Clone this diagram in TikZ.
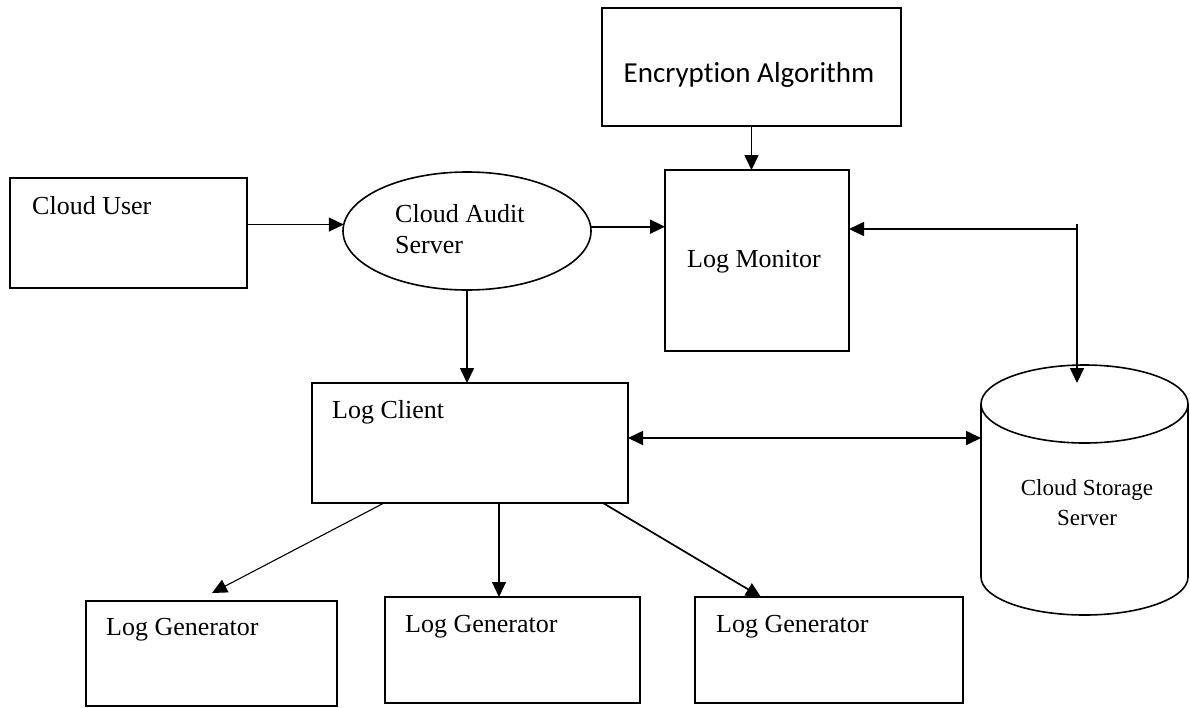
\documentclass[tikz,border=0pt]{standalone}
\usepackage{fontspec}
\setmainfont{Liberation Serif}
\newfontfamily\encfont[Ligatures=NoCommon]{Carlito}
\usetikzlibrary{arrows.meta,shapes.geometric,calc}
\begin{document}
\begin{tikzpicture}[x=1pt,y=-1pt,
  box/.style={draw, line width=1.6pt, inner sep=0pt, outer sep=0pt, anchor=north west},
  lbl/.style={inner sep=0pt, anchor=base west, font=\fontsize{26}{31}\selectfont},
  arr/.style={line width=1.7pt, -{Triangle[length=15pt,width=14pt]}},
  thinarr/.style={line width=1.1pt, -{Triangle[length=15pt,width=14pt]}},
  dblarr/.style={line width=1.7pt, {Triangle[length=15pt,width=14pt]}-{Triangle[length=15pt,width=14pt]}}]
\path[use as bounding box] (0,0) rectangle (1190,707);

% boxes
\node[box, minimum width=299pt, minimum height=118pt] (enc) at (602,8) {};
\node[inner sep=0pt, anchor=base, font=\encfont\fontsize{29}{34}\selectfont] (enctext) at (749,82) {Encryption Algorithm};

\node[box, minimum width=184pt, minimum height=181pt] (lm) at (665,170) {};
\node[lbl] (lmtext) at (687,267) {Log Monitor};

\node[box, minimum width=237pt, minimum height=110pt] (cu) at (10,178) {};
\node[lbl] (cutext) at (32,214) {Cloud User};

\node[draw, ellipse, line width=1.6pt, inner sep=0pt, outer sep=0pt, minimum width=248pt, minimum height=118pt] (cas) at (467,231) {};
\node[lbl] (castextA) at (395,222) {Cloud Audit};
\node[lbl] (castextB) at (395,253) {Server};

\node[box, minimum width=316pt, minimum height=120pt] (lc) at (312,383) {};
\node[lbl] (lctext) at (332,418) {Log Client};

\node[box, minimum width=251pt, minimum height=105pt] (g1) at (86,601) {};
\node[lbl] (g1text) at (106,635) {Log Generator};
\node[box, minimum width=255pt, minimum height=106pt] (g2) at (385,597) {};
\node[lbl] (g2text) at (405,632) {Log Generator};
\node[box, minimum width=268pt, minimum height=106pt] (g3) at (695,597) {};
\node[lbl] (g3text) at (716,632) {Log Generator};

% cylinder (Cloud Storage Server)
\draw[line width=1.6pt] (1084.5,404) ellipse [x radius=103.5, y radius=39];
\draw[line width=1.6pt] (981,404) -- (981,577) arc[start angle=180, end angle=0, x radius=103.5, y radius=38] -- (1188,404);
\node[inner sep=0pt, anchor=base, font=\fontsize{23}{28}\selectfont] (csstextA) at (1087,495) {Cloud Storage};
\node[inner sep=0pt, anchor=base, font=\fontsize{23}{28}\selectfont] (csstextB) at (1087,525) {Server};
\coordinate (csstop) at (1077,383);
\coordinate (cssleft) at (981,438);
\coordinate (corner) at (1077,229);
\coordinate (cornertop) at (1077,224);

% connectors
\draw[arr] (enc.south) -- (enc.south |- lm.north);
\draw[arr] (cu.east |- cas.177) -- (cas.177);
\draw[arr] (cas.2) -- (cas.2 -| lm.west);
\draw[arr] (cas.south) -- (cas.south |- lc.north);
\draw[arr] (corner) -- (corner -| lm.east);
\draw[arr] (cornertop) -- (csstop);
\draw[dblarr] (cssleft -| lc.east) -- (cssleft);

\coordinate (lcA) at (384,503);
\coordinate (lcB) at (499,503);
\coordinate (lcC) at (603,503);
\coordinate (g1in) at (212,593);
\coordinate (g2in) at (499,597);
\coordinate (g3in) at (761,597);
\draw[thinarr] (lcA) -- (g1in);
\draw[thinarr] (lcB) -- (g2in);
\draw[arr] (lcC) -- (g3in);
\end{tikzpicture}
\end{document}
